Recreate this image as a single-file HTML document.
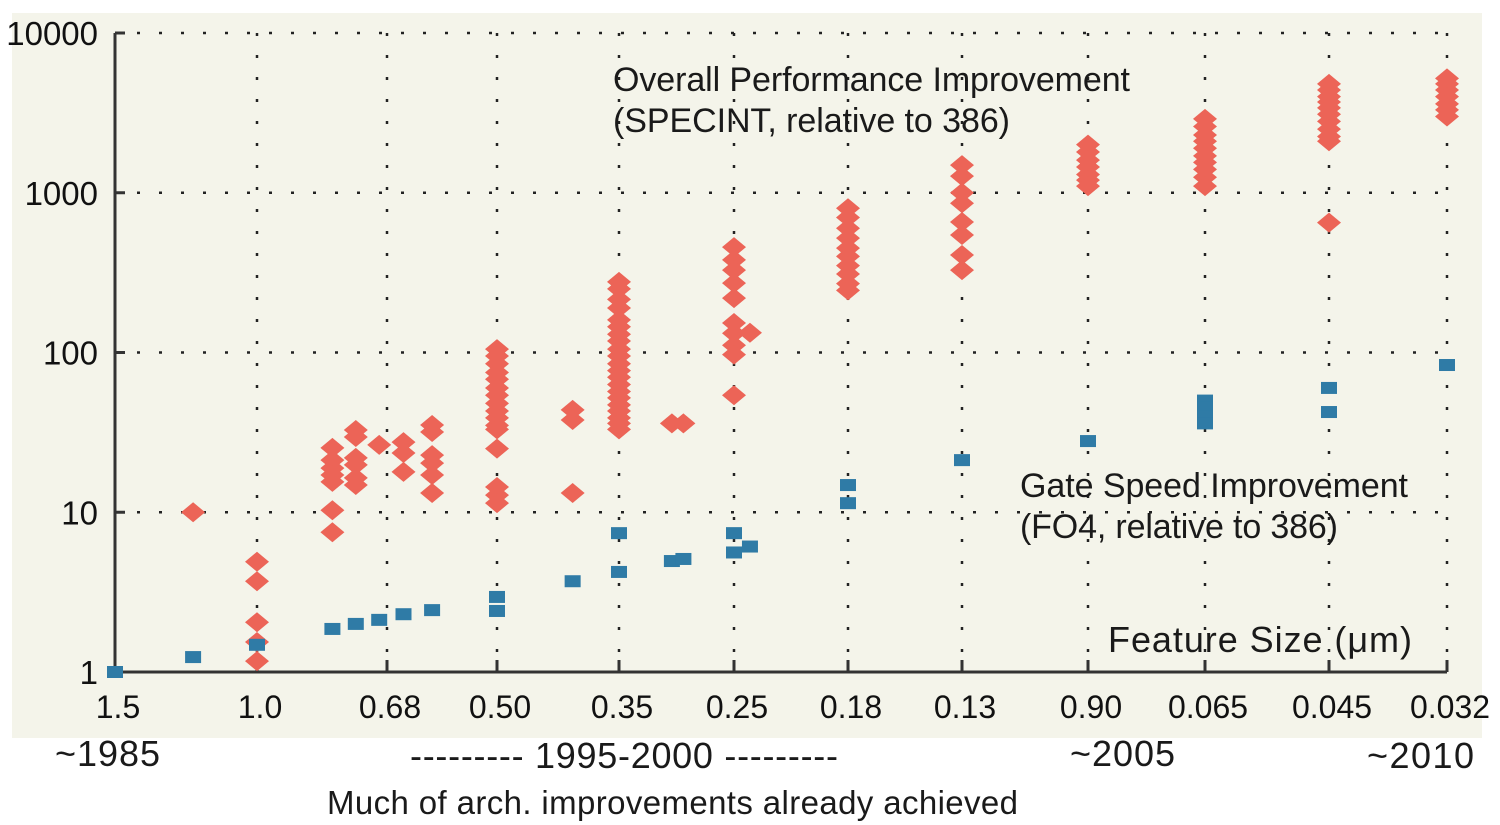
<!DOCTYPE html>
<html><head><meta charset="utf-8"><style>
html,body{margin:0;padding:0;background:#fff;}
svg{display:block;font-family:"Liberation Sans",sans-serif;}
</style></head><body>
<svg id="chart" width="1500" height="825" viewBox="0 0 1500 825">
<rect x="12" y="13" width="1470" height="725" fill="#f4f4ea"/>
<g id="grid"></g>
<g id="marks"></g>
<g id="labels"></g>
<text x="613" y="91" font-size="34" textLength="517" fill="#1a1a1a">Overall Performance Improvement</text>
<text x="613" y="132" font-size="34" textLength="397" fill="#1a1a1a">(SPECINT, relative to 386)</text>
<text x="1020" y="497" font-size="34" textLength="388" fill="#1a1a1a">Gate Speed Improvement</text>
<text x="1020" y="538" font-size="34" textLength="318" fill="#1a1a1a">(FO4, relative to 386)</text>
<text x="1108" y="652" font-size="36" textLength="304" fill="#1a1a1a">Feature Size (μm)</text>
<text x="55" y="766" font-size="36" textLength="105" fill="#1a1a1a">~1985</text>
<text x="410" y="768" font-size="36" textLength="428" fill="#1a1a1a">--------- 1995-2000 ---------</text>
<text x="1070" y="766" font-size="36" textLength="105" fill="#1a1a1a">~2005</text>
<text x="1367" y="768" font-size="36" textLength="107" fill="#1a1a1a">~2010</text>
<text x="327" y="814" font-size="33" textLength="691" fill="#1a1a1a">Much of arch. improvements already achieved</text>
</svg>
<script>
const xTickLabels = ["1.5","1.0","0.68","0.50","0.35","0.25","0.18","0.13","0.90","0.065","0.045","0.032"];
const yTickValues = [1,10,100,1000,10000];
const yTickLabels = ["1","10","100","1000","10000"];
// SPECINT: x = feature-size generation index (fractional), values
const specX = [0.55,1,1,1,1,1,
 1.58,1.58,1.58,1.58,1.58,1.58,1.58,
 1.76,1.76,1.76,1.76,1.76,1.76, 1.94, 2.15,2.15,2.15,
 2.41,2.41,2.41,2.41,2.41,2.41,
 3,3,3,3,3,3,3,3,3,3,3,3,3,3,3,3,
 3.62,3.62,3.62,
 4,4,4,4,4,4,4,4,4,4,4,4,4,4,4,4,4,4,4,4,4,
 4.46,4.56,
 5,5,5,5,5,5,5,5,5,5,5.14,
 6,6,6,6,6,6,6,6,6,6,
 7,7,7,7,7,7,7,7,
 8,8,8,8,8,8,8,
 9,9,9,9,9,9,9,9,9,9,
 10,10,10,10,10,10,10,10,10,10,10,
 11,11,11,11,11,11,11];
const specV = [10,4.9,3.7,2.05,1.54,1.17,
 25.3,21.2,18.9,17.1,15.5,10.3,7.5,
 32.7,29.6,21.9,19.8,16.4,14.8, 26.4, 27.5,23.5,17.9,
 35.2,31.8,22.8,20.3,17.1,13.2,
 105,95,85,75,68,60,54,48,43,39,35,33,25,14.4,12.8,11.4,
 43.7,37.8,13.2,
 277,250,215,190,160,145,130,118,105,95,85,77,70,63,57,52,47,43,39,36,33,
 36,36,
 457,380,328,272,219,153,132,111,97,54,133,
 800,700,600,520,450,400,350,310,270,245,
 1490,1270,1000,860,656,544,408,328,
 2000,1800,1600,1450,1300,1200,1100,
 2900,2600,2300,2100,1900,1700,1550,1400,1250,1100,
 4800,4400,4000,3700,3400,3100,2800,2500,2250,2100,650,
 5200,4800,4400,4000,3600,3300,3000];
// FO4 gate speed
const fo4X = [0,0.55,1,1.58,1.76,1.94,2.15,2.41,3,3,3.62,4,4,4.46,4.56,5,5,5.14,6,6,7,8,9,9,9,9,10,10,11];
const fo4V = [1,1.24,1.48,1.86,2.0,2.12,2.3,2.44,2.95,2.41,3.7,4.23,7.4,4.95,5.1,7.4,5.6,6.1,14.8,11.4,21.2,27.9,50,45,40,36,60,42.4,83.5];

const NS="http://www.w3.org/2000/svg";
const tickPx=[115,257,387,497,619,734,848,962,1088,1205,1329,1447];
const yTop=33, yBot=672;
function xs(i){const a=Math.max(0,Math.min(10,Math.floor(i)));return tickPx[a]+(tickPx[a+1]-tickPx[a])*(i-a);}
function ys(v){return yBot-(yBot-yTop)*Math.log10(v)/4;}
function mk(tag,attrs,parent){const e=document.createElementNS(NS,tag);for(const k in attrs)e.setAttribute(k,attrs[k]);parent.appendChild(e);return e;}
const grid=document.getElementById('grid'),marks=document.getElementById('marks'),labels=document.getElementById('labels');
yTickValues.forEach((v,i)=>{
  const y=ys(v);
  if(i>0){const l=mk('line',{x1:115,x2:1447,y1:y,y2:y,stroke:'#222','stroke-width':2.5,'stroke-dasharray':'3 19'},grid);
  
  }
  const t=mk('line',{x1:115,x2:125,y1:y,y2:y,stroke:'#333','stroke-width':3},grid);
  
  
  const tx=mk('text',{x:98,y:y+12,'font-size':33,'text-anchor':'end',fill:'#111'},labels);
  tx.textContent=yTickLabels[i];
  
  
});
xTickLabels.forEach((s,i)=>{
  const x=xs(i);
  if(i>0){const l=mk('line',{x1:x,x2:x,y1:yTop,y2:yBot,stroke:'#222','stroke-width':2.5,'stroke-dasharray':'3 19'},grid);
  
  
  const t=mk('line',{x1:x,x2:x,y1:yBot-12,y2:yBot,stroke:'#333','stroke-width':3},grid);
  
  }
  const tx=mk('text',{x:x+3,y:718,'font-size':32,'text-anchor':'middle',fill:'#111'},labels);
  tx.textContent=s;
  
  
});
const ax=mk('path',{d:`M115 ${yTop} L115 ${yBot} L1447 ${yBot}`,fill:'none',stroke:'#333','stroke-width':3},grid);


specV.forEach((v,i)=>{
  const x=xs(specX[i]),y=ys(v);
  const d=mk('polygon',{points:`${x},${y-10} ${x+12},${y} ${x},${y+10} ${x-12},${y}`,fill:'#ec6457'},marks);
  
  
});
fo4V.forEach((v,i)=>{
  const x=xs(fo4X[i]),y=ys(v);
  const r=mk('rect',{x:x-8,y:y-6,width:16,height:12,fill:'#2f7ba6'},marks);
  
  
});
</script>
</body></html>
